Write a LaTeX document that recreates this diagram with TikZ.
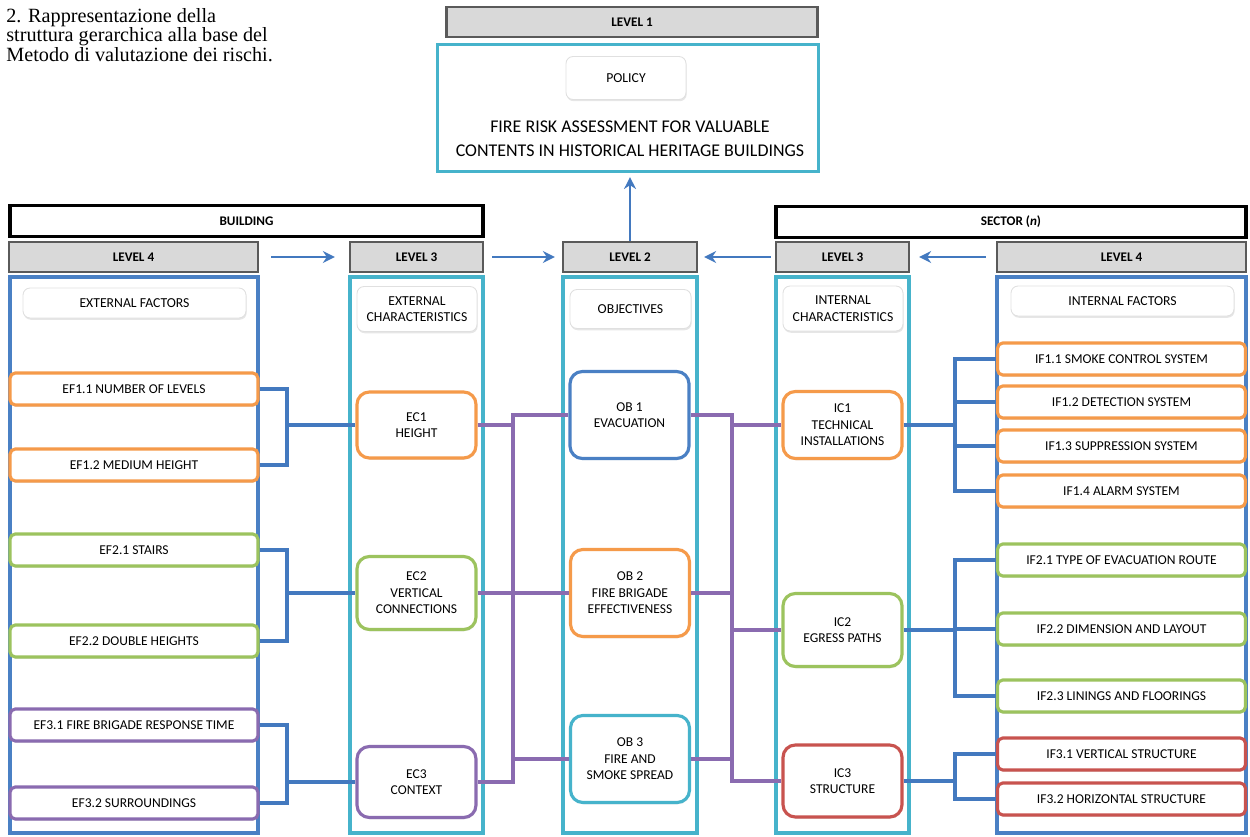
\documentclass[tikz,border=0pt]{standalone}
\usepackage{fontspec}
\setmainfont{Carlito}
\newfontfamily\capfont{Liberation Serif}
\usepackage{xcolor}
\usepackage{tikz}
\usetikzlibrary{positioning, calc, arrows.meta, shadows}
\definecolor{LinkBlue}{HTML}{4379BF}
\definecolor{ColBlue}{HTML}{4A80C4}
\definecolor{ColCyan}{HTML}{46B3CB}
\definecolor{FacOrange}{HTML}{F59A4A}
\definecolor{FacGreen}{HTML}{9CC35E}
\definecolor{FacPurple}{HTML}{8A6BB0}
\definecolor{FacRed}{HTML}{C8534F}
\definecolor{HdrGray}{HTML}{D9D9D9}
\definecolor{HdrLine}{HTML}{5A5A5A}

\begin{document}
\begin{tikzpicture}[x=0.02cm, y=-0.02cm,
  lvlbox/.style={draw=HdrLine, fill=HdrGray, line width=1.3pt, inner sep=0pt, minimum height=0.6cm, font=\bfseries\fontsize{7.5}{9}\selectfont},
  zonebox/.style={draw=black, line width=1.8pt, inner sep=0pt, minimum height=0.62cm, font=\bfseries\fontsize{7.5}{9}\selectfont},
  colframe/.style={draw=#1, line width=1.8pt, inner sep=0pt, minimum height=11.12cm},
  tagbox/.style={draw=black!12, fill=white, rounded corners=4pt, line width=0.5pt, inner sep=1pt, align=center,
    drop shadow={shadow xshift=0.4pt, shadow yshift=-1pt, opacity=0.2}, font=\fontsize{7.8}{9.4}\selectfont},
  factor/.style={draw=#1, fill=white, line width=1.8pt, rounded corners=3pt, minimum width=4.96cm, minimum height=0.64cm, inner sep=0pt,
    drop shadow={shadow xshift=0.4pt, shadow yshift=-1pt, opacity=0.2}, font=\fontsize{7.7}{9}\selectfont},
  charbox/.style={draw=#1, fill=white, line width=1.8pt, rounded corners=7pt, minimum width=2.38cm, minimum height=1.4cm, inner sep=1pt, align=center,
    drop shadow={shadow xshift=0.4pt, shadow yshift=-1pt, opacity=0.2}, font=\fontsize{7.7}{9.4}\selectfont},
  objbox/.style={charbox=#1, minimum height=1.74cm},
  bluelink/.style={draw=LinkBlue, line width=2pt},
  purplink/.style={draw=FacPurple, line width=2pt},
  levelarrow/.style={draw=LinkBlue, line width=1.5pt, -{Stealth[length=2.4mm, width=2.4mm]}}
]
  \useasboundingbox (0,0) rectangle (1250,837);

  % caption
  \node[anchor=north west, inner sep=0pt, align=left, font=\capfont\fontsize{11.5}{11.1}\selectfont] (caption) at (6,8)
    {2. Rappresentazione della\\struttura gerarchica alla base del\\Metodo di valutazione dei rischi.};

  % level 1
  \node[lvlbox, minimum width=7.42cm] (lvl1) at (632,22) {LEVEL 1};
  \node[colframe=ColCyan, minimum width=7.62cm, minimum height=2.54cm] (policy) at (628,108) {};
  \node[tagbox, minimum width=2.4cm, minimum height=0.86cm] (policytag) at (626,78) {POLICY};
  \node[align=center, font=\fontsize{10.2}{13.6}\selectfont] (goaltext) at (630,139)
    {FIRE RISK ASSESSMENT FOR VALUABLE\\CONTENTS IN HISTORICAL HERITAGE BUILDINGS};

  % zones and level headers
  \node[zonebox, minimum width=9.46cm] (building) at (246.5,221) {BUILDING};
  \node[zonebox, minimum width=9.4cm] (sector) at (1011,222) {SECTOR (\textit{n})};
  \node[lvlbox, minimum width=4.98cm] (lvl4a) at (133.5,257) {LEVEL 4};
  \node[lvlbox, minimum width=2.66cm] (lvl3a) at (416.5,257) {LEVEL 3};
  \node[lvlbox, minimum width=2.68cm] (lvl2) at (630,257) {LEVEL 2};
  \node[lvlbox, minimum width=2.66cm] (lvl3b) at (842.5,257) {LEVEL 3};
  \node[lvlbox, minimum width=4.98cm] (lvl4b) at (1121.5,257) {LEVEL 4};

  \draw[levelarrow, shorten <=0.24cm, shorten >=0.28cm] (lvl4a) -- (lvl3a);
  \draw[levelarrow, shorten <=0.16cm, shorten >=0.14cm] (lvl3a) -- (lvl2);
  \draw[levelarrow, shorten <=0.08cm, shorten >=0.12cm] (lvl3b) -- (lvl2);
  \draw[levelarrow, shorten <=0.2cm, shorten >=0.18cm] (lvl4b) -- (lvl3b);
  \draw[levelarrow, shorten >=0.08cm] (lvl2.north) -- (lvl2.north |- policy.south);

  % columns
  \node[colframe=ColBlue, minimum width=4.96cm] (col4a) at (134,555) {};
  \node[colframe=ColCyan, minimum width=2.66cm] (col3a) at (416.5,555) {};
  \node[colframe=ColCyan, minimum width=2.68cm] (col2) at (630,555) {};
  \node[colframe=ColCyan, minimum width=2.66cm] (col3b) at (842.5,555) {};
  \node[colframe=ColBlue, minimum width=4.98cm] (col4b) at (1121.5,555) {};

  \node[tagbox, minimum width=4.46cm, minimum height=0.6cm] (tagEF) at (134.5,303) {EXTERNAL FACTORS};
  \node[tagbox, minimum width=2.4cm, minimum height=0.9cm] (tagEC) at (417,309) {EXTERNAL\\CHARACTERISTICS};
  \node[tagbox, minimum width=2.42cm, minimum height=0.78cm] (tagOB) at (630.5,309) {OBJECTIVES};
  \node[tagbox, minimum width=2.4cm, minimum height=0.9cm] (tagIC) at (843,308.5) {INTERNAL\\CHARACTERISTICS};
  \node[tagbox, minimum width=4.46cm, minimum height=0.6cm] (tagIF) at (1122.5,301) {INTERNAL FACTORS};

  % level 4, external factors
  \node[factor=FacOrange] (ef11) at (134,389) {EF1.1 NUMBER OF LEVELS};
  \node[factor=FacOrange] (ef12) at (134,465) {EF1.2 MEDIUM HEIGHT};
  \node[factor=FacGreen] (ef21) at (134,550) {EF2.1 STAIRS};
  \node[factor=FacGreen] (ef22) at (134,641) {EF2.2 DOUBLE HEIGHTS};
  \node[factor=FacPurple] (ef31) at (134,725) {EF3.1 FIRE BRIGADE RESPONSE TIME};
  \node[factor=FacPurple] (ef32) at (134,803) {EF3.2 SURROUNDINGS};

  % level 3, external characteristics
  \node[charbox=FacOrange, minimum height=1.32cm] (ec1) at (416.5,425) {EC1\\HEIGHT};
  \node[charbox=FacGreen, minimum height=1.46cm] (ec2) at (416.5,593) {EC2\\VERTICAL\\CONNECTIONS};
  \node[charbox=FacPurple, minimum height=1.42cm] (ec3) at (416.5,782) {EC3\\CONTEXT};

  % level 2, objectives
  \node[objbox=ColBlue] (ob1) at (629.5,415) {OB 1\\EVACUATION};
  \node[objbox=FacOrange] (ob2) at (630,593) {OB 2\\FIRE BRIGADE\\EFFECTIVENESS};
  \node[objbox=ColCyan] (ob3) at (630,759) {OB 3\\FIRE AND\\SMOKE SPREAD};

  % level 3, internal characteristics
  \node[charbox=FacOrange, minimum height=1.34cm] (ic1) at (842.5,425) {IC1\\TECHNICAL\\INSTALLATIONS};
  \node[charbox=FacGreen, minimum height=1.46cm] (ic2) at (842.5,630) {IC2\\EGRESS PATHS};
  \node[charbox=FacRed, minimum height=1.44cm] (ic3) at (842.5,781) {IC3\\STRUCTURE};

  % level 4, internal factors
  \node[factor=FacOrange] (if11) at (1121.5,359) {IF1.1 SMOKE CONTROL SYSTEM};
  \node[factor=FacOrange] (if12) at (1121.5,402) {IF1.2 DETECTION SYSTEM};
  \node[factor=FacOrange] (if13) at (1121.5,446) {IF1.3 SUPPRESSION SYSTEM};
  \node[factor=FacOrange] (if14) at (1121.5,491) {IF1.4 ALARM SYSTEM};
  \node[factor=FacGreen] (if21) at (1121.5,560) {IF2.1 TYPE OF EVACUATION ROUTE};
  \node[factor=FacGreen] (if22) at (1121.5,629) {IF2.2 DIMENSION AND LAYOUT};
  \node[factor=FacGreen] (if23) at (1121.5,696) {IF2.3 LININGS AND FLOORINGS};
  \node[factor=FacRed] (if31) at (1121.5,754) {IF3.1 VERTICAL STRUCTURE};
  \node[factor=FacRed] (if32) at (1121.5,799) {IF3.2 HORIZONTAL STRUCTURE};

  % external factors to characteristics
  \coordinate (busEF) at (287,0);
  \draw[bluelink] (ef11.east) -- (ef11.east -| busEF) -- (ef12.east -| busEF) -- (ef12.east);
  \draw[bluelink] (ec1.west -| busEF) -- (ec1.west);
  \draw[bluelink] (ef21.east) -- (ef21.east -| busEF) -- (ef22.east -| busEF) -- (ef22.east);
  \draw[bluelink] (ec2.west -| busEF) -- (ec2.west);
  \draw[bluelink] (ef31.east) -- (ef31.east -| busEF) -- (ef32.east -| busEF) -- (ef32.east);
  \draw[bluelink] (ec3.west -| busEF) -- (ec3.west);

  % characteristics to objectives
  \coordinate (busL) at (513,0);
  \draw[purplink] (ob1.west) -- (ob1.west -| busL) -- (ec3.east -| busL) -- (ec3.east);
  \draw[purplink] (ec1.east) -- (ec1.east -| busL);
  \draw[purplink] (ec2.east) -- (ob2.west);
  \draw[purplink] (ob3.west -| busL) -- (ob3.west);

  \coordinate (busR) at (732,0);
  \draw[purplink] (ob1.east) -- (ob1.east -| busR) -- (ic3.west -| busR) -- (ic3.west);
  \draw[purplink] (ic1.west -| busR) -- (ic1.west);
  \draw[purplink] (ob2.east) -- (ob2.east -| busR);
  \draw[purplink] (ic2.west -| busR) -- (ic2.west);
  \draw[purplink] (ob3.east) -- (ob3.east -| busR);

  % internal factors to characteristics
  \coordinate (busIF) at (955,0);
  \draw[bluelink] (if11.west) -- (if11.west -| busIF) -- (if14.west -| busIF) -- (if14.west);
  \draw[bluelink] (if12.west -| busIF) -- (if12.west);
  \draw[bluelink] (if13.west -| busIF) -- (if13.west);
  \draw[bluelink] (ic1.east) -- (ic1.east -| busIF);
  \draw[bluelink] (if21.west) -- (if21.west -| busIF) -- (if23.west -| busIF) -- (if23.west);
  \draw[bluelink] (if22.west -| busIF) -- (if22.west);
  \draw[bluelink] (ic2.east) -- (ic2.east -| busIF);
  \draw[bluelink] (if31.west) -- (if31.west -| busIF) -- (if32.west -| busIF) -- (if32.west);
  \draw[bluelink] (ic3.east) -- (ic3.east -| busIF);
\end{tikzpicture}
\end{document}
